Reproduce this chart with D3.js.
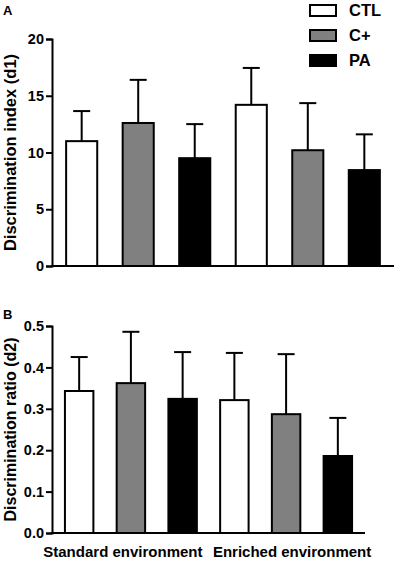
<!DOCTYPE html>
<html>
<head>
<meta charset="utf-8">
<script src="https://cdn.jsdelivr.net/npm/d3@7"></script>
<style>
  body { margin: 0; background: #fff; }
  svg { font-family: "Liberation Sans", Arial, sans-serif; font-weight: bold; }
</style>
</head>
<body>
<div id="chart"></div>
<script>
// data
var groups = ["Standard environment", "Enriched environment"];
var series = ["CTL", "C+", "PA"];
var seriesColor = ["#ffffff", "#808080", "#000000"];

// panel A: discrimination index (d1), mean and top of error bar
var d1Mean = [11.0, 12.6, 9.5, 14.2, 10.2, 8.45];
var d1Top  = [13.65, 16.4, 12.5, 17.45, 14.35, 11.6];

// panel B: discrimination ratio (d2)
var d2Mean = [0.343, 0.362, 0.324, 0.321, 0.287, 0.186];
var d2Top  = [0.425, 0.486, 0.437, 0.435, 0.432, 0.278];

var d1Ticks = [0, 5, 10, 15, 20];
var d2Ticks = [0, 0.1, 0.2, 0.3, 0.4, 0.5];

var svg = d3.select("#chart")
  .append("svg")
    .attr("width", 397)
    .attr("height", 561);

// build rows: one per bar
function rows(means, tops) {
  var out = [];
  groups.forEach(function(g, gi) {
    series.forEach(function(s, si) {
      var i = gi * series.length + si;
      out.push({key: g + "|" + s, series: si, mean: means[i], top: tops[i]});
    });
  });
  return out;
}

function panel(opts) {
  var data = rows(opts.means, opts.tops);

  var x = d3.scaleBand()
    .domain(data.map(function(d) { return d.key; }))
    .range([opts.left, opts.right])
    .paddingInner(0.45)
    .paddingOuter(0.25);

  var y = d3.scaleLinear()
    .domain(opts.domain)
    .range([opts.bottom, opts.top]);

  var g = svg.append("g");

  // bars
  g.selectAll("rect.bar")
    .data(data)
    .enter()
    .append("rect")
      .attr("class", "bar")
      .attr("x", function(d) { return x(d.key); })
      .attr("y", function(d) { return y(d.mean); })
      .attr("width", x.bandwidth())
      .attr("height", function(d) { return y(0) - y(d.mean); })
      .attr("fill", function(d) { return seriesColor[d.series]; })
      .attr("stroke", "#000")
      .attr("stroke-width", 2);

  // error bars (upper only)
  var cap = 8.5;
  var err = g.selectAll("g.err")
    .data(data)
    .enter()
    .append("g")
      .attr("class", "err");
  err.append("line")
    .attr("x1", function(d) { return x(d.key) + x.bandwidth() / 2; })
    .attr("x2", function(d) { return x(d.key) + x.bandwidth() / 2; })
    .attr("y1", function(d) { return y(d.mean); })
    .attr("y2", function(d) { return y(d.top); })
    .attr("stroke", "#000")
    .attr("stroke-width", 2);
  err.append("line")
    .attr("x1", function(d) { return x(d.key) + x.bandwidth() / 2 - cap; })
    .attr("x2", function(d) { return x(d.key) + x.bandwidth() / 2 + cap; })
    .attr("y1", function(d) { return y(d.top); })
    .attr("y2", function(d) { return y(d.top); })
    .attr("stroke", "#000")
    .attr("stroke-width", 2);

  // y axis
  var ya = g.append("g")
    .attr("transform", "translate(" + opts.left + ",0)")
    .call(d3.axisLeft(y).tickValues(opts.ticks).tickFormat(opts.fmt).tickSizeOuter(0).tickSize(6).tickPadding(2));
  ya.select(".domain").attr("stroke-width", 2);
  ya.selectAll(".tick line").attr("stroke-width", 2);
  ya.selectAll("text")
    .attr("font-size", 14.5)
    .attr("font-family", "Liberation Sans, Arial, sans-serif")
    .attr("font-weight", "bold")
    .attr("fill", "#000");

  // x axis baseline
  g.append("line")
    .attr("x1", opts.left - 1)
    .attr("x2", opts.right)
    .attr("y1", y(0))
    .attr("y2", y(0))
    .attr("stroke", "#000")
    .attr("stroke-width", 2);

  // y title
  g.append("text")
    .attr("transform", "translate(16," + ((opts.top + opts.bottom) / 2) + ")rotate(-90)")
    .attr("text-anchor", "middle")
    .attr("font-size", opts.titleSize)
    .text(opts.title);

  // panel letter
  g.append("text")
    .attr("x", 3)
    .attr("y", opts.letterY)
    .attr("font-size", 13)
    .text(opts.letter);

  return {x: x, y: y};
}

panel({
  means: d1Mean, tops: d1Top, domain: [0, 20], ticks: d1Ticks, fmt: d3.format("d"),
  left: 52, right: 394, top: 39, bottom: 266,
  title: "Discrimination index (d1)", titleSize: 16.5, letter: "A", letterY: 15
});

var pb = panel({
  means: d2Mean, tops: d2Top, domain: [0, 0.5], ticks: d2Ticks, fmt: d3.format(".1f"),
  left: 52, right: 365, top: 326, bottom: 533,
  title: "Discrimination ratio (d2)", titleSize: 16, letter: "B", letterY: 319
});

// group labels under panel B
var xb = pb.x;
groups.forEach(function(gname, gi) {
  var first = xb(gname + "|" + series[0]);
  var last = xb(gname + "|" + series[series.length - 1]) + xb.bandwidth();
  svg.append("text")
    .attr("x", (first + last) / 2 + (gi === 0 ? -8 : 6))
    .attr("y", 557)
    .attr("text-anchor", "middle")
    .attr("font-size", 15)
    .text(gname);
});

// legend
var legend = svg.append("g");
series.forEach(function(s, i) {
  legend.append("rect")
    .attr("x", 310)
    .attr("y", 5 + i * 25)
    .attr("width", 26)
    .attr("height", 11)
    .attr("fill", seriesColor[i])
    .attr("stroke", "#000")
    .attr("stroke-width", 2);
  legend.append("text")
    .attr("x", 349)
    .attr("y", 16 + i * 25)
    .attr("font-size", 16.5)
    .text(s);
});
</script>
</body>
</html>
